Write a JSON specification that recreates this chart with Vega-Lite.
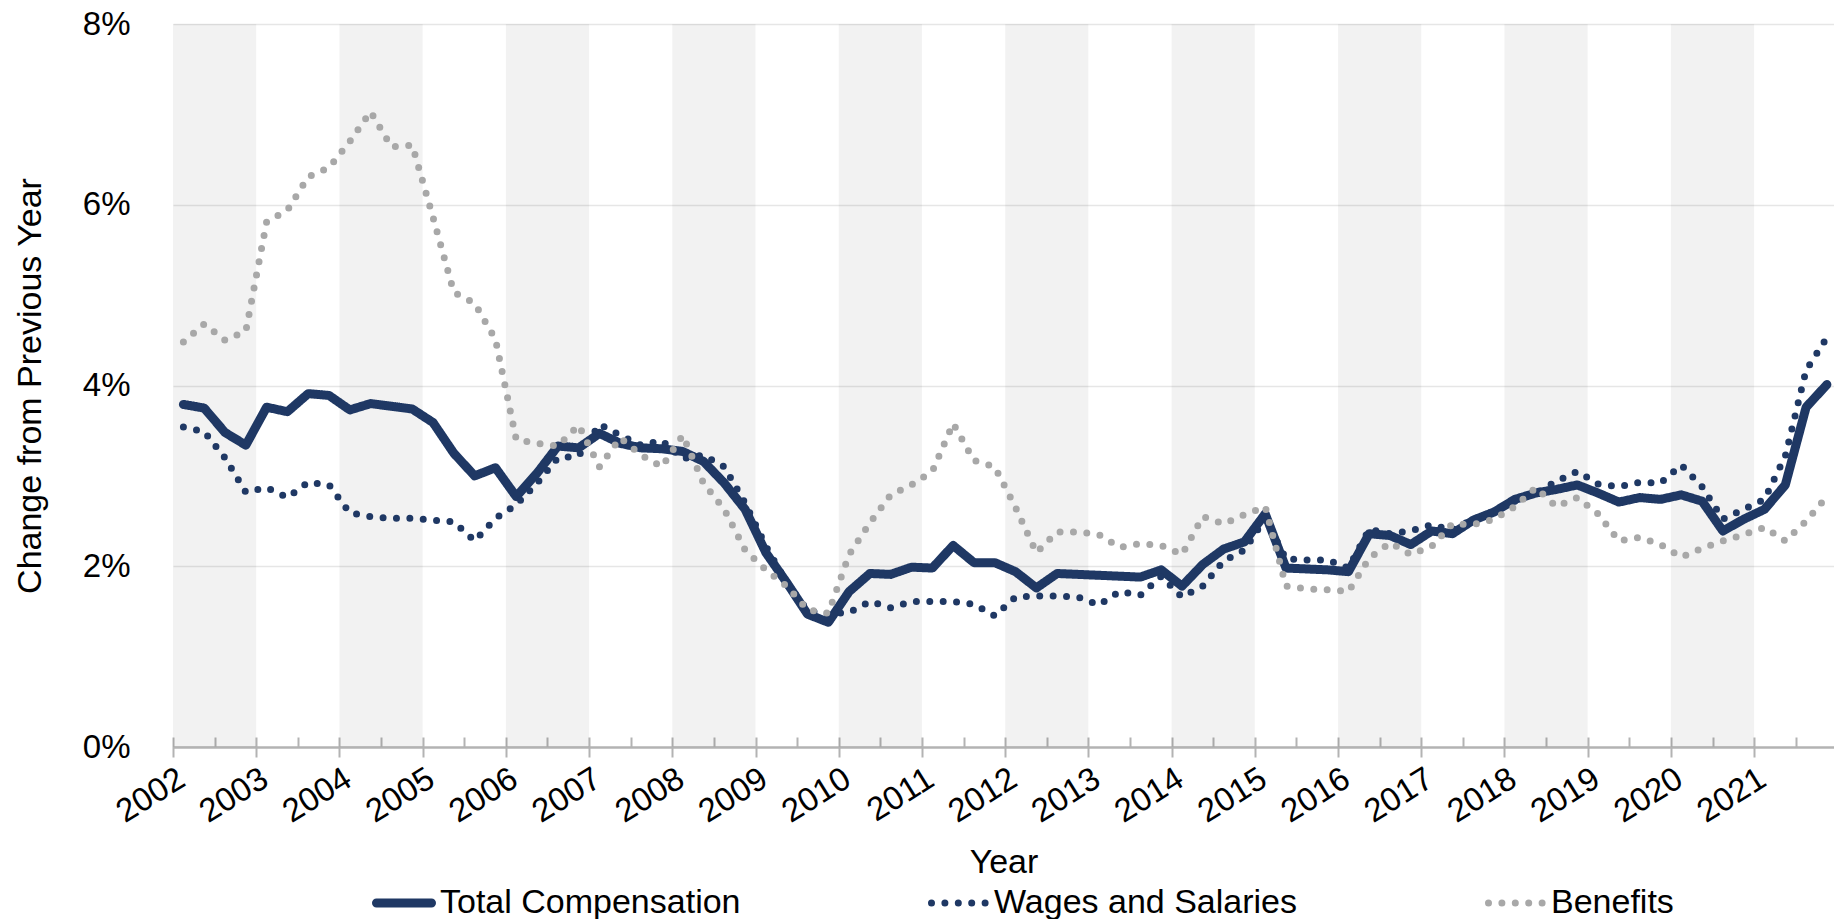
{
"$schema": "https://vega.github.io/schema/vega-lite/v6.json",
"width": 1661,
"height": 723,
"autosize": {"type": "none"},
"padding": {"left": 173, "top": 24, "right": 0, "bottom": 172},
"background": "#ffffff",
"config": {"view": {"stroke": null}, "font": "Liberation Sans"},
"datasets": {
"bands": [
{"t":2002,"t2":2003},{"t":2004,"t2":2005},{"t":2006,"t2":2007},{"t":2008,"t2":2009},{"t":2010,"t2":2011},
{"t":2012,"t2":2013},{"t":2014,"t2":2015},{"t":2016,"t2":2017},{"t":2018,"t2":2019},{"t":2020,"t2":2021}
],
"series": [
{"s":"Total Compensation","t":2002.125,"v":3.79},{"s":"Total Compensation","t":2002.375,"v":3.75},{"s":"Total Compensation","t":2002.625,"v":3.48},{"s":"Total Compensation","t":2002.875,"v":3.34},
{"s":"Total Compensation","t":2003.125,"v":3.76},{"s":"Total Compensation","t":2003.375,"v":3.71},{"s":"Total Compensation","t":2003.625,"v":3.91},{"s":"Total Compensation","t":2003.875,"v":3.89},
{"s":"Total Compensation","t":2004.125,"v":3.73},{"s":"Total Compensation","t":2004.375,"v":3.80},{"s":"Total Compensation","t":2004.625,"v":3.77},{"s":"Total Compensation","t":2004.875,"v":3.74},
{"s":"Total Compensation","t":2005.125,"v":3.59},{"s":"Total Compensation","t":2005.375,"v":3.25},{"s":"Total Compensation","t":2005.625,"v":3.00},{"s":"Total Compensation","t":2005.875,"v":3.09},
{"s":"Total Compensation","t":2006.125,"v":2.77},{"s":"Total Compensation","t":2006.375,"v":3.03},{"s":"Total Compensation","t":2006.625,"v":3.33},{"s":"Total Compensation","t":2006.875,"v":3.31},
{"s":"Total Compensation","t":2007.125,"v":3.47},{"s":"Total Compensation","t":2007.375,"v":3.36},{"s":"Total Compensation","t":2007.625,"v":3.31},{"s":"Total Compensation","t":2007.875,"v":3.30},
{"s":"Total Compensation","t":2008.125,"v":3.27},{"s":"Total Compensation","t":2008.375,"v":3.16},{"s":"Total Compensation","t":2008.625,"v":2.92},{"s":"Total Compensation","t":2008.875,"v":2.63},
{"s":"Total Compensation","t":2009.125,"v":2.15},{"s":"Total Compensation","t":2009.375,"v":1.82},{"s":"Total Compensation","t":2009.625,"v":1.47},{"s":"Total Compensation","t":2009.875,"v":1.38},
{"s":"Total Compensation","t":2010.125,"v":1.72},{"s":"Total Compensation","t":2010.375,"v":1.92},{"s":"Total Compensation","t":2010.625,"v":1.91},{"s":"Total Compensation","t":2010.875,"v":1.99},
{"s":"Total Compensation","t":2011.125,"v":1.98},{"s":"Total Compensation","t":2011.375,"v":2.23},{"s":"Total Compensation","t":2011.625,"v":2.04},{"s":"Total Compensation","t":2011.875,"v":2.04},
{"s":"Total Compensation","t":2012.125,"v":1.94},{"s":"Total Compensation","t":2012.375,"v":1.76},{"s":"Total Compensation","t":2012.625,"v":1.92},{"s":"Total Compensation","t":2012.875,"v":1.91},
{"s":"Total Compensation","t":2013.125,"v":1.90},{"s":"Total Compensation","t":2013.375,"v":1.89},{"s":"Total Compensation","t":2013.625,"v":1.88},{"s":"Total Compensation","t":2013.875,"v":1.96},
{"s":"Total Compensation","t":2014.125,"v":1.78},{"s":"Total Compensation","t":2014.375,"v":2.02},{"s":"Total Compensation","t":2014.625,"v":2.19},{"s":"Total Compensation","t":2014.875,"v":2.27},
{"s":"Total Compensation","t":2015.125,"v":2.58},{"s":"Total Compensation","t":2015.375,"v":1.98},{"s":"Total Compensation","t":2015.625,"v":1.97},{"s":"Total Compensation","t":2015.875,"v":1.96},
{"s":"Total Compensation","t":2016.125,"v":1.94},{"s":"Total Compensation","t":2016.375,"v":2.36},{"s":"Total Compensation","t":2016.625,"v":2.34},{"s":"Total Compensation","t":2016.875,"v":2.24},
{"s":"Total Compensation","t":2017.125,"v":2.39},{"s":"Total Compensation","t":2017.375,"v":2.36},{"s":"Total Compensation","t":2017.625,"v":2.51},{"s":"Total Compensation","t":2017.875,"v":2.60},
{"s":"Total Compensation","t":2018.125,"v":2.74},{"s":"Total Compensation","t":2018.375,"v":2.81},{"s":"Total Compensation","t":2018.625,"v":2.85},{"s":"Total Compensation","t":2018.875,"v":2.90},
{"s":"Total Compensation","t":2019.125,"v":2.81},{"s":"Total Compensation","t":2019.375,"v":2.71},{"s":"Total Compensation","t":2019.625,"v":2.76},{"s":"Total Compensation","t":2019.875,"v":2.74},
{"s":"Total Compensation","t":2020.125,"v":2.79},{"s":"Total Compensation","t":2020.375,"v":2.72},{"s":"Total Compensation","t":2020.625,"v":2.39},{"s":"Total Compensation","t":2020.875,"v":2.52},
{"s":"Total Compensation","t":2021.125,"v":2.63},{"s":"Total Compensation","t":2021.375,"v":2.90},{"s":"Total Compensation","t":2021.625,"v":3.76},{"s":"Total Compensation","t":2021.875,"v":4.01},

{"s":"Wages and Salaries","t":2002.125,"v":3.54},{"s":"Wages and Salaries","t":2002.375,"v":3.49},{"s":"Wages and Salaries","t":2002.625,"v":3.20},{"s":"Wages and Salaries","t":2002.875,"v":2.82},
{"s":"Wages and Salaries","t":2003.125,"v":2.87},{"s":"Wages and Salaries","t":2003.375,"v":2.76},{"s":"Wages and Salaries","t":2003.625,"v":2.93},{"s":"Wages and Salaries","t":2003.875,"v":2.90},
{"s":"Wages and Salaries","t":2004.125,"v":2.59},{"s":"Wages and Salaries","t":2004.375,"v":2.55},{"s":"Wages and Salaries","t":2004.625,"v":2.53},{"s":"Wages and Salaries","t":2004.875,"v":2.53},
{"s":"Wages and Salaries","t":2005.125,"v":2.51},{"s":"Wages and Salaries","t":2005.375,"v":2.49},{"s":"Wages and Salaries","t":2005.625,"v":2.28},{"s":"Wages and Salaries","t":2005.875,"v":2.53},
{"s":"Wages and Salaries","t":2006.125,"v":2.68},{"s":"Wages and Salaries","t":2006.375,"v":2.92},{"s":"Wages and Salaries","t":2006.625,"v":3.20},{"s":"Wages and Salaries","t":2006.875,"v":3.22},
{"s":"Wages and Salaries","t":2007.125,"v":3.57},{"s":"Wages and Salaries","t":2007.375,"v":3.45},{"s":"Wages and Salaries","t":2007.625,"v":3.34},{"s":"Wages and Salaries","t":2007.875,"v":3.39},
{"s":"Wages and Salaries","t":2008.125,"v":3.19},{"s":"Wages and Salaries","t":2008.375,"v":3.23},{"s":"Wages and Salaries","t":2008.625,"v":3.10},{"s":"Wages and Salaries","t":2008.875,"v":2.70},
{"s":"Wages and Salaries","t":2009.125,"v":2.22},{"s":"Wages and Salaries","t":2009.375,"v":1.82},{"s":"Wages and Salaries","t":2009.625,"v":1.51},{"s":"Wages and Salaries","t":2009.875,"v":1.47},
{"s":"Wages and Salaries","t":2010.125,"v":1.49},{"s":"Wages and Salaries","t":2010.375,"v":1.61},{"s":"Wages and Salaries","t":2010.625,"v":1.54},{"s":"Wages and Salaries","t":2010.875,"v":1.61},
{"s":"Wages and Salaries","t":2011.125,"v":1.61},{"s":"Wages and Salaries","t":2011.375,"v":1.61},{"s":"Wages and Salaries","t":2011.625,"v":1.58},{"s":"Wages and Salaries","t":2011.875,"v":1.45},
{"s":"Wages and Salaries","t":2012.125,"v":1.66},{"s":"Wages and Salaries","t":2012.375,"v":1.67},{"s":"Wages and Salaries","t":2012.625,"v":1.67},{"s":"Wages and Salaries","t":2012.875,"v":1.66},
{"s":"Wages and Salaries","t":2013.125,"v":1.57},{"s":"Wages and Salaries","t":2013.375,"v":1.72},{"s":"Wages and Salaries","t":2013.625,"v":1.68},{"s":"Wages and Salaries","t":2013.875,"v":1.89},
{"s":"Wages and Salaries","t":2014.125,"v":1.66},{"s":"Wages and Salaries","t":2014.375,"v":1.78},{"s":"Wages and Salaries","t":2014.625,"v":2.06},{"s":"Wages and Salaries","t":2014.875,"v":2.18},
{"s":"Wages and Salaries","t":2015.125,"v":2.53},{"s":"Wages and Salaries","t":2015.375,"v":2.08},{"s":"Wages and Salaries","t":2015.625,"v":2.07},{"s":"Wages and Salaries","t":2015.875,"v":2.07},
{"s":"Wages and Salaries","t":2016.125,"v":1.98},{"s":"Wages and Salaries","t":2016.375,"v":2.41},{"s":"Wages and Salaries","t":2016.625,"v":2.36},{"s":"Wages and Salaries","t":2016.875,"v":2.39},
{"s":"Wages and Salaries","t":2017.125,"v":2.46},{"s":"Wages and Salaries","t":2017.375,"v":2.40},{"s":"Wages and Salaries","t":2017.625,"v":2.52},{"s":"Wages and Salaries","t":2017.875,"v":2.61},
{"s":"Wages and Salaries","t":2018.125,"v":2.72},{"s":"Wages and Salaries","t":2018.375,"v":2.81},{"s":"Wages and Salaries","t":2018.625,"v":2.94},{"s":"Wages and Salaries","t":2018.875,"v":3.05},
{"s":"Wages and Salaries","t":2019.125,"v":2.91},{"s":"Wages and Salaries","t":2019.375,"v":2.88},{"s":"Wages and Salaries","t":2019.625,"v":2.93},{"s":"Wages and Salaries","t":2019.875,"v":2.92},
{"s":"Wages and Salaries","t":2020.125,"v":3.12},{"s":"Wages and Salaries","t":2020.375,"v":2.88},{"s":"Wages and Salaries","t":2020.625,"v":2.52},{"s":"Wages and Salaries","t":2020.875,"v":2.63},
{"s":"Wages and Salaries","t":2021.125,"v":2.74},{"s":"Wages and Salaries","t":2021.375,"v":3.22},{"s":"Wages and Salaries","t":2021.625,"v":4.17},{"s":"Wages and Salaries","t":2021.875,"v":4.53},

{"s":"Benefits","t":2002.125,"v":4.48},{"s":"Benefits","t":2002.375,"v":4.68},{"s":"Benefits","t":2002.625,"v":4.50},{"s":"Benefits","t":2002.875,"v":4.60},
{"s":"Benefits","t":2003.125,"v":5.81},{"s":"Benefits","t":2003.375,"v":5.94},{"s":"Benefits","t":2003.625,"v":6.31},{"s":"Benefits","t":2003.875,"v":6.41},
{"s":"Benefits","t":2004.125,"v":6.70},{"s":"Benefits","t":2004.375,"v":7.03},{"s":"Benefits","t":2004.625,"v":6.64},{"s":"Benefits","t":2004.875,"v":6.66},
{"s":"Benefits","t":2005.125,"v":5.86},{"s":"Benefits","t":2005.375,"v":5.03},{"s":"Benefits","t":2005.625,"v":4.91},{"s":"Benefits","t":2005.875,"v":4.51},
{"s":"Benefits","t":2006.125,"v":3.40},{"s":"Benefits","t":2006.375,"v":3.36},{"s":"Benefits","t":2006.625,"v":3.33},{"s":"Benefits","t":2006.875,"v":3.56},
{"s":"Benefits","t":2007.125,"v":3.10},{"s":"Benefits","t":2007.375,"v":3.42},{"s":"Benefits","t":2007.625,"v":3.23},{"s":"Benefits","t":2007.875,"v":3.10},
{"s":"Benefits","t":2008.125,"v":3.45},{"s":"Benefits","t":2008.375,"v":2.92},{"s":"Benefits","t":2008.625,"v":2.63},{"s":"Benefits","t":2008.875,"v":2.18},
{"s":"Benefits","t":2009.125,"v":1.96},{"s":"Benefits","t":2009.375,"v":1.78},{"s":"Benefits","t":2009.625,"v":1.52},{"s":"Benefits","t":2009.875,"v":1.48},
{"s":"Benefits","t":2010.125,"v":2.13},{"s":"Benefits","t":2010.375,"v":2.48},{"s":"Benefits","t":2010.625,"v":2.79},{"s":"Benefits","t":2010.875,"v":2.90},
{"s":"Benefits","t":2011.125,"v":3.05},{"s":"Benefits","t":2011.375,"v":3.58},{"s":"Benefits","t":2011.625,"v":3.17},{"s":"Benefits","t":2011.875,"v":3.10},
{"s":"Benefits","t":2012.125,"v":2.65},{"s":"Benefits","t":2012.375,"v":2.15},{"s":"Benefits","t":2012.625,"v":2.38},{"s":"Benefits","t":2012.875,"v":2.38},
{"s":"Benefits","t":2013.125,"v":2.35},{"s":"Benefits","t":2013.375,"v":2.21},{"s":"Benefits","t":2013.625,"v":2.25},{"s":"Benefits","t":2013.875,"v":2.23},
{"s":"Benefits","t":2014.125,"v":2.13},{"s":"Benefits","t":2014.375,"v":2.55},{"s":"Benefits","t":2014.625,"v":2.47},{"s":"Benefits","t":2014.875,"v":2.57},
{"s":"Benefits","t":2015.125,"v":2.66},{"s":"Benefits","t":2015.375,"v":1.78},{"s":"Benefits","t":2015.625,"v":1.75},{"s":"Benefits","t":2015.875,"v":1.74},
{"s":"Benefits","t":2016.125,"v":1.72},{"s":"Benefits","t":2016.375,"v":2.09},{"s":"Benefits","t":2016.625,"v":2.26},{"s":"Benefits","t":2016.875,"v":2.13},
{"s":"Benefits","t":2017.125,"v":2.22},{"s":"Benefits","t":2017.375,"v":2.47},{"s":"Benefits","t":2017.625,"v":2.46},{"s":"Benefits","t":2017.875,"v":2.52},
{"s":"Benefits","t":2018.125,"v":2.66},{"s":"Benefits","t":2018.375,"v":2.87},{"s":"Benefits","t":2018.625,"v":2.66},{"s":"Benefits","t":2018.875,"v":2.76},
{"s":"Benefits","t":2019.125,"v":2.58},{"s":"Benefits","t":2019.375,"v":2.28},{"s":"Benefits","t":2019.625,"v":2.32},{"s":"Benefits","t":2019.875,"v":2.24},
{"s":"Benefits","t":2020.125,"v":2.10},{"s":"Benefits","t":2020.375,"v":2.20},{"s":"Benefits","t":2020.625,"v":2.28},{"s":"Benefits","t":2020.875,"v":2.35},
{"s":"Benefits","t":2021.125,"v":2.43},{"s":"Benefits","t":2021.375,"v":2.28},{"s":"Benefits","t":2021.625,"v":2.50},{"s":"Benefits","t":2021.875,"v":2.77}
]
},
"encoding": {
"x": {"field": "t", "type": "quantitative",
 "scale": {"domain": [2002, 2021.96], "nice": false, "zero": false},
 "axis": {
  "title": "Year", "titleFontSize": 34, "titleFontWeight": "normal", "titleColor": "#000000", "titleFont": "Liberation Sans",
  "titleY": 135, "titleBaseline": "alphabetic",
  "values": [2002,2002.5,2003,2003.5,2004,2004.5,2005,2005.5,2006,2006.5,2007,2007.5,2008,2008.5,2009,2009.5,2010,2010.5,2011,2011.5,2012,2012.5,2013,2013.5,2014,2014.5,2015,2015.5,2016,2016.5,2017,2017.5,2018,2018.5,2019,2019.5,2020,2020.5,2021,2021.5],
  "labelExpr": "datum.value % 1 === 0 ? format(datum.value, 'd') : ''",
  "labelAngle": -32, "labelAlign": "right", "labelBaseline": "top",
  "labelFontSize": 33, "labelColor": "#000000", "labelFont": "Liberation Sans",
  "labelPadding": 5, "labelOverlap": false, "labelFlush": false, "labelBound": false,
  "offset": -10, "domain": false, "grid": false,
  "tickColor": "#b3b3b3", "tickWidth": 2,
  "tickSize": {"condition": {"test": "datum.value % 1 === 0", "value": 20}, "value": 10}
 }
}
},
"layer": [
{"data": {"name": "bands"},
 "mark": {"type": "rect", "fill": "#000000", "fillOpacity": 0.05},
 "encoding": {"x2": {"field": "t2"}}},
{"data": {"name": "series"},
 "transform": [{"filter": "datum.s === 'Total Compensation'"}],
 "mark": {"type": "line", "strokeCap": "round", "strokeJoin": "round"},
 "encoding": {
  "y": {"field": "v", "type": "quantitative", "scale": {"domain": [0, 8], "nice": false},
   "axis": {"title": "Change from Previous Year", "titleFontSize": 34, "titleFontWeight": "normal", "titleColor": "#000000", "titleFont": "Liberation Sans",
    "titleX": -133, "titleBaseline": "alphabetic",
    "values": [0,2,4,6,8], "labelExpr": "datum.value + '%'", "labelFontSize": 33, "labelColor": "#000000", "labelFont": "Liberation Sans",
    "labelPadding": 43, "ticks": false, "tickSize": 0, "domain": false, "grid": true,
    "gridColor": {"condition": {"test": "datum.value === 0", "value": "#b3b3b3"}, "value": "#e6e6e6"},
    "gridWidth": {"condition": {"test": "datum.value === 0", "value": 2.5}, "value": 1.5}}},
  "color": {"field": "s", "type": "nominal", "scale": {"domain": ["Total Compensation", "Wages and Salaries", "Benefits"], "range": ["#1f3864", "#1f3864", "#a8a8a8"]},
   "legend": {"title": null, "orient": "none", "legendX": 199, "legendY": 847, "direction": "horizontal", "columnPadding": 176, "labelFontSize": 34, "labelFont": "Liberation Sans", "labelColor": "#000000", "labelLimit": 500, "symbolSize": 3025, "symbolType": "stroke", "labelOffset": 4, "padding": 0, "encode": {"symbols": {"update": {"strokeCap": {"value": "round"}}}}}},
  "strokeDash": {"field": "s", "type": "nominal", "scale": {"domain": ["Total Compensation", "Wages and Salaries", "Benefits"], "range": [[1, 0], [0, 13.4], [0, 13.4]]},
   "legend": {"title": null, "orient": "none", "legendX": 199, "legendY": 847, "direction": "horizontal", "columnPadding": 176, "labelFontSize": 34, "labelFont": "Liberation Sans", "labelColor": "#000000", "labelLimit": 500, "symbolSize": 3025, "symbolType": "stroke", "labelOffset": 4, "padding": 0, "encode": {"symbols": {"update": {"strokeCap": {"value": "round"}}}}}},
  "strokeWidth": {"field": "s", "type": "nominal", "scale": {"type": "ordinal", "domain": ["Total Compensation", "Wages and Salaries", "Benefits"], "range": [9, 7, 7]},
   "legend": {"title": null, "orient": "none", "legendX": 199, "legendY": 847, "direction": "horizontal", "columnPadding": 176, "labelFontSize": 34, "labelFont": "Liberation Sans", "labelColor": "#000000", "labelLimit": 500, "symbolSize": 3025, "symbolType": "stroke", "labelOffset": 4, "padding": 0, "encode": {"symbols": {"update": {"strokeCap": {"value": "round"}}}}}}
 }},
{"data": {"name": "series"},
 "transform": [{"filter": "datum.s === 'Wages and Salaries'"}],
 "mark": {"type": "line", "strokeCap": "round", "strokeJoin": "round"},
 "encoding": {
  "y": {"field": "v", "type": "quantitative", "scale": {"domain": [0, 8], "nice": false},
   "axis": {"title": "Change from Previous Year", "titleFontSize": 34, "titleFontWeight": "normal", "titleColor": "#000000", "titleFont": "Liberation Sans",
    "titleX": -133, "titleBaseline": "alphabetic",
    "values": [0,2,4,6,8], "labelExpr": "datum.value + '%'", "labelFontSize": 33, "labelColor": "#000000", "labelFont": "Liberation Sans",
    "labelPadding": 43, "ticks": false, "tickSize": 0, "domain": false, "grid": true,
    "gridColor": {"condition": {"test": "datum.value === 0", "value": "#b3b3b3"}, "value": "#e6e6e6"},
    "gridWidth": {"condition": {"test": "datum.value === 0", "value": 2.5}, "value": 1.5}}},
  "color": {"field": "s", "type": "nominal", "scale": {"domain": ["Total Compensation", "Wages and Salaries", "Benefits"], "range": ["#1f3864", "#1f3864", "#a8a8a8"]},
   "legend": {"title": null, "orient": "none", "legendX": 199, "legendY": 847, "direction": "horizontal", "columnPadding": 176, "labelFontSize": 34, "labelFont": "Liberation Sans", "labelColor": "#000000", "labelLimit": 500, "symbolSize": 3025, "symbolType": "stroke", "labelOffset": 4, "padding": 0, "encode": {"symbols": {"update": {"strokeCap": {"value": "round"}}}}}},
  "strokeDash": {"field": "s", "type": "nominal", "scale": {"domain": ["Total Compensation", "Wages and Salaries", "Benefits"], "range": [[1, 0], [0, 13.4], [0, 13.4]]},
   "legend": {"title": null, "orient": "none", "legendX": 199, "legendY": 847, "direction": "horizontal", "columnPadding": 176, "labelFontSize": 34, "labelFont": "Liberation Sans", "labelColor": "#000000", "labelLimit": 500, "symbolSize": 3025, "symbolType": "stroke", "labelOffset": 4, "padding": 0, "encode": {"symbols": {"update": {"strokeCap": {"value": "round"}}}}}},
  "strokeWidth": {"field": "s", "type": "nominal", "scale": {"type": "ordinal", "domain": ["Total Compensation", "Wages and Salaries", "Benefits"], "range": [9, 7, 7]},
   "legend": {"title": null, "orient": "none", "legendX": 199, "legendY": 847, "direction": "horizontal", "columnPadding": 176, "labelFontSize": 34, "labelFont": "Liberation Sans", "labelColor": "#000000", "labelLimit": 500, "symbolSize": 3025, "symbolType": "stroke", "labelOffset": 4, "padding": 0, "encode": {"symbols": {"update": {"strokeCap": {"value": "round"}}}}}}
 }},
{"data": {"name": "series"},
 "transform": [{"filter": "datum.s === 'Benefits'"}],
 "mark": {"type": "line", "strokeCap": "round", "strokeJoin": "round"},
 "encoding": {
  "y": {"field": "v", "type": "quantitative", "scale": {"domain": [0, 8], "nice": false},
   "axis": {"title": "Change from Previous Year", "titleFontSize": 34, "titleFontWeight": "normal", "titleColor": "#000000", "titleFont": "Liberation Sans",
    "titleX": -133, "titleBaseline": "alphabetic",
    "values": [0,2,4,6,8], "labelExpr": "datum.value + '%'", "labelFontSize": 33, "labelColor": "#000000", "labelFont": "Liberation Sans",
    "labelPadding": 43, "ticks": false, "tickSize": 0, "domain": false, "grid": true,
    "gridColor": {"condition": {"test": "datum.value === 0", "value": "#b3b3b3"}, "value": "#e6e6e6"},
    "gridWidth": {"condition": {"test": "datum.value === 0", "value": 2.5}, "value": 1.5}}},
  "color": {"field": "s", "type": "nominal", "scale": {"domain": ["Total Compensation", "Wages and Salaries", "Benefits"], "range": ["#1f3864", "#1f3864", "#a8a8a8"]},
   "legend": {"title": null, "orient": "none", "legendX": 199, "legendY": 847, "direction": "horizontal", "columnPadding": 176, "labelFontSize": 34, "labelFont": "Liberation Sans", "labelColor": "#000000", "labelLimit": 500, "symbolSize": 3025, "symbolType": "stroke", "labelOffset": 4, "padding": 0, "encode": {"symbols": {"update": {"strokeCap": {"value": "round"}}}}}},
  "strokeDash": {"field": "s", "type": "nominal", "scale": {"domain": ["Total Compensation", "Wages and Salaries", "Benefits"], "range": [[1, 0], [0, 13.4], [0, 13.4]]},
   "legend": {"title": null, "orient": "none", "legendX": 199, "legendY": 847, "direction": "horizontal", "columnPadding": 176, "labelFontSize": 34, "labelFont": "Liberation Sans", "labelColor": "#000000", "labelLimit": 500, "symbolSize": 3025, "symbolType": "stroke", "labelOffset": 4, "padding": 0, "encode": {"symbols": {"update": {"strokeCap": {"value": "round"}}}}}},
  "strokeWidth": {"field": "s", "type": "nominal", "scale": {"type": "ordinal", "domain": ["Total Compensation", "Wages and Salaries", "Benefits"], "range": [9, 7, 7]},
   "legend": {"title": null, "orient": "none", "legendX": 199, "legendY": 847, "direction": "horizontal", "columnPadding": 176, "labelFontSize": 34, "labelFont": "Liberation Sans", "labelColor": "#000000", "labelLimit": 500, "symbolSize": 3025, "symbolType": "stroke", "labelOffset": 4, "padding": 0, "encode": {"symbols": {"update": {"strokeCap": {"value": "round"}}}}}}
 }}
]
}
